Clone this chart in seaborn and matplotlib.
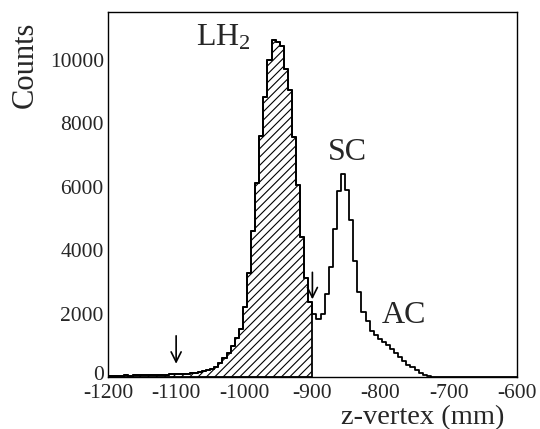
import numpy as np
import pandas as pd
import matplotlib
matplotlib.use("Agg")
import matplotlib.pyplot as plt
import matplotlib.transforms as mtransforms
from matplotlib.ticker import MultipleLocator
import seaborn as sns

# ---- data ----
bin_edges = [float(v) for v in np.arange(-1200, -600 + 1, 6)]   # 100 bins of 6 mm
counts = [
    40, 45, 50, 45, 55, 50, 60, 55, 60, 65, 60, 70, 65, 75, 80, 85, 90,     # -1200 .. -1098
    90, 100, 110, 120, 140, 160, 190, 210, 245, 330, 436, 595, 750, 965,
    1230, 1520, 2220, 3280, 4600, 6110, 7610, 8820, 9990, 10620, 10550,
    10440, 9720, 9030, 7550, 6060, 4420, 3110, 2350,                          # .. -900
    1975, 1815, 1975, 2610, 3460, 4680, 5870, 6400, 5900, 4950, 3670,
    2665, 2060, 1760, 1440, 1340, 1210, 1090, 1000, 880, 750, 640, 500,
    390, 310, 220, 130, 70, 30, 15, 8, 5, 3,
    0, 0, 0, 0, 0, 0, 0, 0, 0, 0, 0, 0, 0, 0, 0, 0, 0,
]
cut_low, cut_high = -1200, -900
x_ticks = [-1200, -1100, -1000, -900, -800, -700, -600]
y_ticks = [0, 2000, 4000, 6000, 8000, 10000]
labels = {"LH$_2$": (-1071, 10450), "SC": (-877, 6850), "AC": (-798, 1700)}
arrows = [(-1100, 1300, 420), (-900, 3300, 2450)]

centers = [e + 3 for e in bin_edges[:-1]]
df = pd.DataFrame({"z": centers, "counts": counts})
sel = df[(df.z > cut_low) & (df.z < cut_high)].reset_index(drop=True)
sel_edges = [e for e in bin_edges if cut_low <= e <= cut_high]

sns.set_style("white")
plt.rcParams["font.family"] = ["Liberation Serif", "DejaVu Serif"]
plt.rcParams["mathtext.fontset"] = "custom"
plt.rcParams["mathtext.rm"] = "Liberation Serif"
plt.rcParams["mathtext.it"] = "Liberation Serif:italic"
plt.rcParams["axes.unicode_minus"] = False
plt.rcParams["hatch.linewidth"] = 0.8

fig = plt.figure(figsize=(5.4, 4.29), dpi=100)
ax = fig.add_axes([0.2, 0.121, 0.757, 0.851])

# hatched region
sns.histplot(data=sel, x="z", weights="counts", bins=sel_edges, element="step",
             fill=True, ax=ax)
for coll in ax.collections:
    coll.set_facecolor("none")
    coll.set_edgecolor("black")
    coll.set_hatch("////")
    coll.set_linewidth(1.3)
    coll.set_alpha(1)

# full outline
sns.histplot(data=df, x="z", weights="counts", bins=bin_edges, element="step",
             fill=False, color="black", linewidth=1.3, ax=ax)

ax.set_xlim(-1200, -600)
ax.set_ylim(0, 11500)
ax.set_xticks(x_ticks)
ax.set_xticklabels([str(v) for v in x_ticks])
ax.set_yticks(y_ticks)
ax.set_yticklabels([str(v) for v in y_ticks])
ax.xaxis.set_minor_locator(MultipleLocator(20))
ax.yaxis.set_minor_locator(MultipleLocator(500))
ax.tick_params(which="both", direction="in", top=False, right=False,
               labelsize=15.5, width=1, color="black")
ax.tick_params(which="major", length=8)
ax.tick_params(which="minor", length=4)
ax.tick_params(axis="x", which="major", pad=5)
ax.tick_params(axis="y", which="major", pad=3)
for s in ax.spines.values():
    s.set_visible(True)
    s.set_color("black")
    s.set_linewidth(1)

# nudge the "0" label slightly up so it does not collide with "-1200"
zero_lbl = ax.get_yticklabels()[0]
zero_lbl.set_transform(zero_lbl.get_transform() +
                       mtransforms.ScaledTranslation(0, 3 / 72, fig.dpi_scale_trans))

ax.set_ylabel("Counts", fontsize=22)
ax.yaxis.set_label_coords(-0.203, 0.975)
ax.yaxis.label.set_ha("right")
ax.yaxis.label.set_va("center")
ax.set_xlabel("z-vertex (mm)", fontsize=20.5)
ax.xaxis.set_label_coords(0.97, -0.11)
ax.xaxis.label.set_ha("right")
ax.xaxis.label.set_va("center")

for txt, (x, y) in labels.items():
    ax.text(x, y, txt, fontsize=23, ha="left", va="baseline")

for x, y0, y1 in arrows:
    ax.annotate("", xy=(x, y1), xytext=(x, y0),
                arrowprops=dict(arrowstyle="->", color="black", lw=1.2,
                                mutation_scale=18, shrinkA=0, shrinkB=0))

fig.savefig("out.png", dpi=100)
